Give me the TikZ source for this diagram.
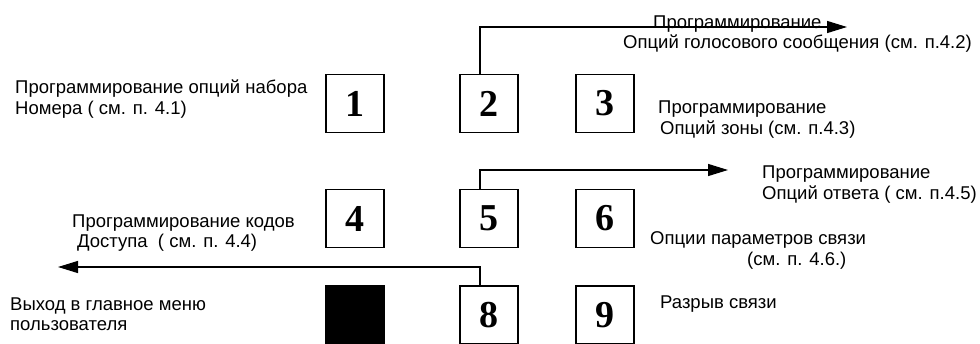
\documentclass[tikz,border=0pt]{standalone}
\usepackage{fontspec}
\setmainfont{Liberation Sans}
\newfontfamily\digitfont{Liberation Serif}
\usetikzlibrary{arrows.meta}
\begin{document}
\begin{tikzpicture}[x=1pt,y=-1pt,
  keybox/.style={draw,line width=1.5pt,minimum size=58pt,inner sep=0pt,
    font=\digitfont\bfseries\fontsize{38}{38}\selectfont},
  lbl/.style={anchor=base west,inner sep=0pt,font=\fontsize{18.5}{21}\selectfont},
  arr/.style={line width=1.3pt,-{Triangle[length=20pt,width=12pt]}}]
\useasboundingbox (0,0) rectangle (980,343);
\node[keybox] (b1) at (355,103.5) {1};
\node[keybox] (b2) at (489,103.5) {2};
\node[keybox] (b3) at (605,103.5) {3};
\node[keybox] (b4) at (355,218.5) {4};
\node[keybox] (b5) at (489,218.5) {5};
\node[keybox] (b6) at (605,218.5) {6};
\node[keybox,fill=black] (b7) at (355,315) {};
\node[keybox] (b8) at (489,315) {8};
\node[keybox] (b9) at (605,315) {9};
\coordinate (e2) at (847,27);
\coordinate (e5) at (728,170);
\coordinate (e8) at (58,267);
\draw[arr] ([xshift=-9pt]b2.north) |- (e2);
\draw[arr] ([xshift=-9pt]b5.north) |- (e5);
\draw[arr] ([xshift=-9pt]b8.north) |- (e8);
\node[lbl] (t1a) at (15,93) {Программирование опций набора};
\node[lbl] (t1b) at (15,114) {Номера ( см. п. 4.1)};
\node[lbl] (t2a) at (653,28) {Программирование};
\node[lbl] (t2b) at (623,48) {Опций голосового сообщения (см. п.4.2)};
\node[lbl] (t3a) at (658,113) {Программирование};
\node[lbl] (t3b) at (660,134) {Опций зоны (см. п.4.3)};
\node[lbl] (t4a) at (72,227) {Программирование кодов};
\node[lbl] (t4b) at (77,247) {Доступа\ \ ( см. п. 4.4)};
\node[lbl] (t5a) at (762,178) {Программирование};
\node[lbl] (t5b) at (762,199) {Опций ответа ( см. п.4.5)};
\node[lbl] (t6a) at (650,244) {Опции параметров связи};
\node[lbl] (t6b) at (747,265) {(см. п. 4.6.)};
\node[lbl] (t9) at (660,308) {Разрыв связи};
\node[lbl] (t7a) at (10,310) {Выход в главное меню};
\node[lbl] (t7b) at (10,330) {пользователя};
\end{tikzpicture}
\end{document}
